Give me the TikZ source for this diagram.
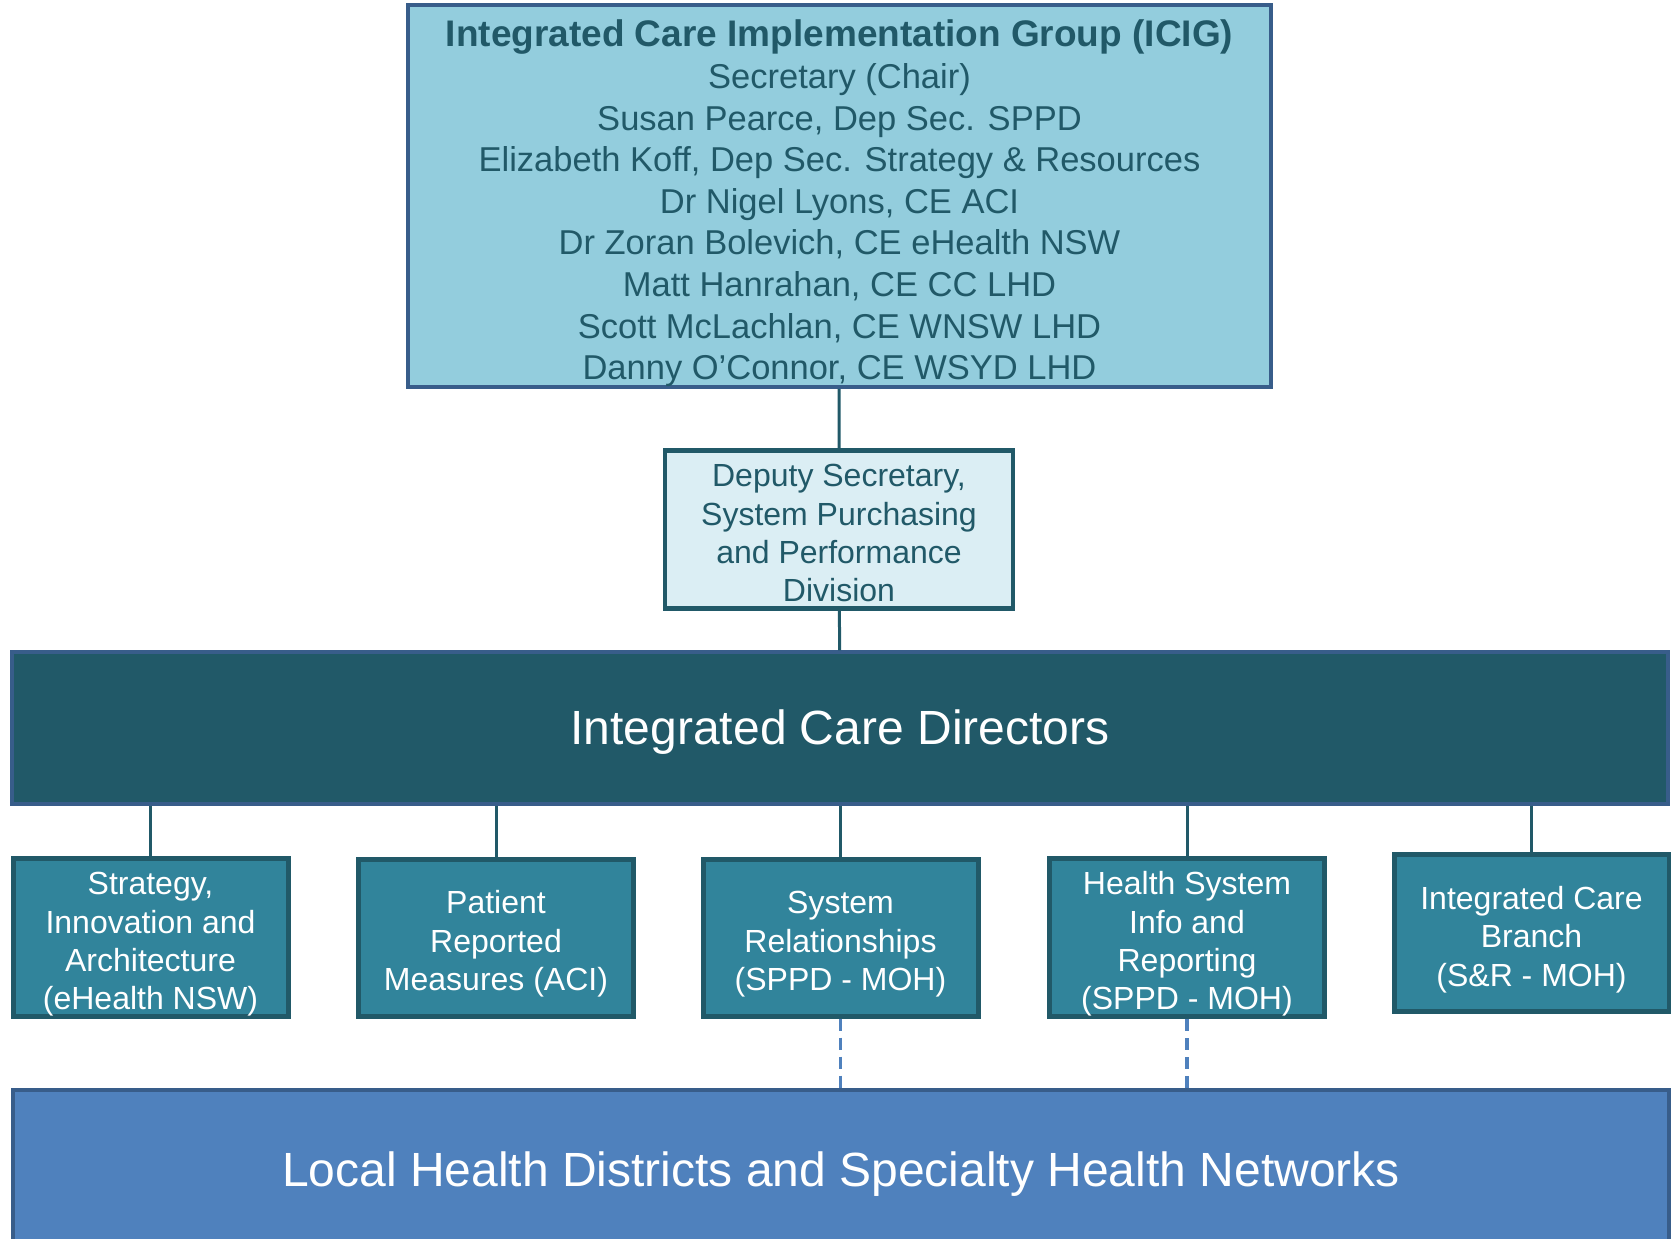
\documentclass[tikz,border=0pt]{standalone}
\usepackage{fontspec}
\setmainfont{Liberation Sans}
\usepackage{xcolor}
\usepackage{tikz}
\usetikzlibrary{positioning}
\definecolor{icigfill}{HTML}{93CDDD}
\definecolor{icigline}{HTML}{385D8A}
\definecolor{tealdark}{HTML}{215968}
\definecolor{depfill}{HTML}{DBEEF4}
\definecolor{unitfill}{HTML}{31849B}
\definecolor{lhdfill}{HTML}{4F81BD}
\newcommand{\lnstrut}{\rule[-0.21em]{0pt}{1.12em}}
\newcommand{\topln}{\rule{0pt}{1.13em}}

\begin{document}
\begin{tikzpicture}[x=1pt,y=-1pt,
	box/.style={rectangle,inner sep=0pt,align=center,execute at end node=\lnstrut},
	icigbox/.style={box,draw=icigline,fill=icigfill,line width=4pt,text=tealdark,
		minimum width=863pt,minimum height=378pt,font=\fontsize{34.5}{41.6}\selectfont},
	depbox/.style={box,draw=tealdark,fill=depfill,line width=4.5pt,text=tealdark,
		minimum width=348pt,minimum height=157pt,font=\fontsize{32}{38.4}\selectfont},
	widebox/.style={box,draw=icigline,line width=3.5pt,text=white,
		minimum width=1656pt,font=\fontsize{48}{57.6}\selectfont},
	unitbox/.style={box,draw=tealdark,fill=unitfill,line width=5pt,text=white,
		minimum width=275pt,minimum height=157pt,font=\fontsize{32}{38.4}\selectfont},
	link/.style={draw=tealdark,line width=3pt},
	dotlink/.style={draw=lhdfill,line width=3.5pt,dash pattern=on 12pt off 7pt}]
	\useasboundingbox (0,0) rectangle (1671,1239);
	
	\node[icigbox] (icig) at (839.5,196) {{\fontsize{37}{41.6}\selectfont\bfseries\topln Integrated Care Implementation Group (ICIG)}\\
		Secretary (Chair)\\
		Susan Pearce, Dep Sec. SPPD\\
		Elizabeth Koff, Dep Sec. Strategy \& Resources\\
		Dr Nigel Lyons, CE ACI\\
		Dr Zoran Bolevich, CE eHealth NSW\\
		Matt Hanrahan, CE CC LHD\\
		Scott McLachlan, CE WNSW LHD\\
		Danny O’Connor, CE WSYD LHD};
	\node[depbox] (deputy) at (839,529.5) {\topln Deputy Secretary,\\System Purchasing\\and Performance\\Division};
	\node[widebox,fill=tealdark,minimum height=152pt] (directors) at (840,728) {Integrated Care Directors};
	
	\node[unitbox] (sia) at (150.5,937.5) {\topln Strategy,\\Innovation and\\Architecture\\(eHealth NSW)};
	\node[unitbox] (prm) at (496,937.5) {\topln Patient\\Reported\\Measures (ACI)};
	\node[unitbox] (sysrel) at (840.5,937.5) {\topln System\\Relationships\\(SPPD - MOH)};
	\node[unitbox] (hsir) at (1187,937.5) {\topln Health System\\Info and\\Reporting\\(SPPD - MOH)};
	\node[unitbox] (icb) at (1531.5,933) {\topln Integrated Care\\Branch\\(S\&R - MOH)};
	
	\node[widebox,fill=lhdfill,minimum height=160pt] (lhd) at (841,1170) {Local Health Districts and Specialty Health Networks};
	
	\draw[link] (icig) -- (deputy);
	\draw[link] (deputy) -- (directors);
	\foreach \u in {sia,prm,sysrel,hsir,icb} \draw[link] (\u.north) -- (\u.north |- directors.south);
	\foreach \u in {sysrel,hsir} \draw[dotlink] (\u.south) -- (\u.south |- lhd.north);
\end{tikzpicture}
\end{document}
